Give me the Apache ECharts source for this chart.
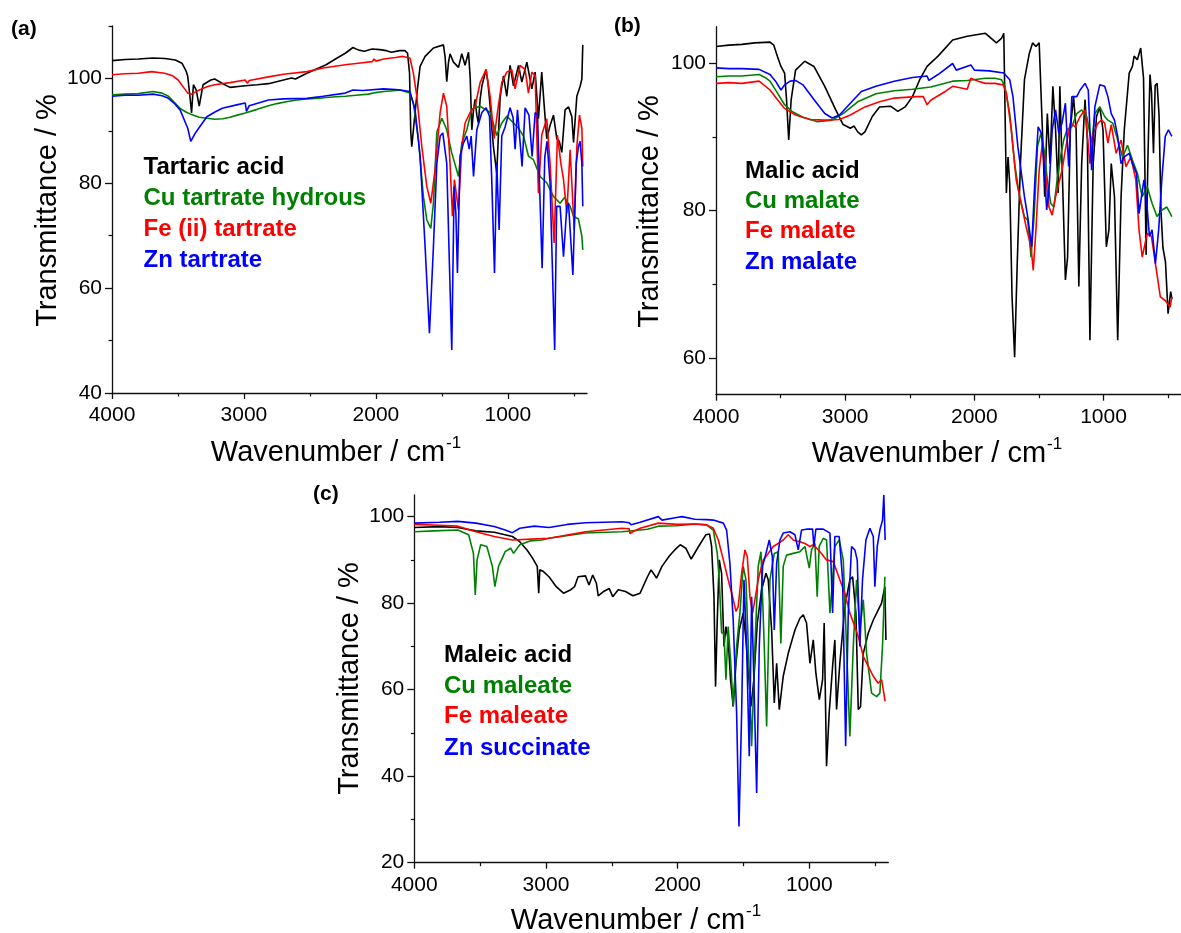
<!DOCTYPE html>
<html>
<head>
<meta charset="utf-8">
<script src="https://cdn.jsdelivr.net/npm/echarts@6/dist/echarts.min.js"></script>
<style>
  html, body { margin: 0; padding: 0; background: #fff; }
  #chart { width: 1181px; height: 933px; }
</style>
</head>
<body>
<div id="chart"></div>
<script>
// ---------- tick labels ----------
const wnTicks = [4000, 3000, 2000, 1000];
const wnMinorTicks = [3500, 2500, 1500, 500];
const yTicksA = [40, 60, 80, 100];
const yMinorA = [50, 70, 90, 110];
const yTicksB = [60, 80, 100];
const yMinorB = [70, 90];
const yTicksC = [20, 40, 60, 80, 100];
const yMinorC = [30, 50, 70, 90];

// ---------- legend names ----------
const namesA = ['Tartaric acid', 'Cu tartrate hydrous', 'Fe (ii) tartrate', 'Zn tartrate'];
const namesB = ['Malic acid', 'Cu malate', 'Fe malate', 'Zn malate'];
const namesC = ['Maleic acid', 'Cu maleate', 'Fe maleate', 'Zn succinate'];

// ---------- panel (a) data: [wavenumber, transmittance] ----------
const tartaricAcid = [[4000,103.4],[3900,103.6],[3800,103.7],[3690,103.9],[3600,103.8],[3520,103.5],[3470,102.9],[3440,101.5],[3426,100.4],[3412,97.2],[3397,93.4],[3383,98.8],[3362,97.8],[3339,94.7],[3310,98.8],[3251,99.7],[3222,99.9],[3160,99.0],[3106,98.3],[2990,98.6],[2900,98.8],[2814,99.0],[2700,99.7],[2640,100.1],[2610,99.9],[2523,101],[2450,101.8],[2377,102.6],[2300,103.8],[2232,104.8],[2174,105.9],[2130,105.4],[2086,105.2],[2030,105.6],[1970,105.5],[1920,105.3],[1882,105.0],[1820,105.3],[1780,105.3],[1760,104.8],[1745,101],[1736,90],[1728,87.0],[1716,87.0],[1703,93.5],[1685,98],[1665,102.3],[1627,104.2],[1564,105.8],[1488,106.4],[1475,104],[1463,99.4],[1450,103],[1438,104.7],[1412,103.1],[1374,102.1],[1349,104.7],[1324,102.5],[1298,105],[1285,100],[1273,90.2],[1260,94],[1248,96],[1235,93],[1223,91.5],[1210,96],[1197,98.5],[1165,101.7],[1150,99],[1134,94.7],[1120,90],[1109,87],[1084,81.9],[1070,90],[1058,96.6],[1033,100.5],[1008,96.6],[983,102.5],[957,98.6],[919,102.5],[894,99.3],[856,103.1],[818,98],[793,101.2],[768,92.3],[743,101.2],[725,95],[705,88.5],[680,91],[654,93],[629,88.5],[610,88],[591,85.9],[566,94],[540,94.6],[515,92.7],[502,87.8],[477,96.6],[452,98.5],[439,99.9],[432,106.4]];
const cuTartrate = [[4000,96.9],[3900,97],[3800,97.1],[3690,97.5],[3620,97.2],[3572,96.6],[3530,95.5],[3484,94.3],[3440,93.6],[3397,93.1],[3339,92.6],[3280,92.4],[3222,92.2],[3160,92.3],[3106,92.6],[3050,93],[2990,93.4],[2900,94.1],[2814,94.8],[2750,95.2],[2669,95.6],[2600,95.9],[2523,96.1],[2400,96.3],[2300,96.5],[2232,96.6],[2150,96.8],[2057,97],[2000,97.3],[1941,97.5],[1850,97.7],[1817,97.8],[1742,97.2],[1716,95.3],[1677,88.2],[1640,77.5],[1614,73],[1584,71.4],[1564,76.2],[1538,89.8],[1500,92.4],[1463,90.2],[1425,85.8],[1374,81.3],[1349,87.7],[1311,90.2],[1273,94.1],[1210,94.7],[1165,94],[1134,93.5],[1084,89.1],[1046,91.5],[1008,92.8],[957,91.5],[919,90.5],[881,89],[844,85.2],[806,84.5],[755,81.3],[705,80.1],[654,77.5],[604,76.2],[570,77.3],[528,75.6],[502,73.7],[465,73.2],[439,69.9],[432,67.3]];
const feTartrate = [[4000,100.7],[3900,100.9],[3800,101],[3700,101.3],[3601,101],[3540,100.5],[3499,99.7],[3455,98.2],[3426,97.2],[3397,97],[3339,97.8],[3280,98.4],[3222,98.8],[3106,99.2],[2990,99.7],[2975,99.1],[2960,99.6],[2814,100.3],[2700,100.8],[2523,101.3],[2400,102],[2232,102.6],[2100,103],[2028,103.2],[2013,103.7],[2000,103.3],[1941,103.7],[1850,104],[1795,104.2],[1742,103.9],[1716,101],[1690,96.6],[1652,87],[1614,79.4],[1584,76.2],[1551,82.6],[1513,93.5],[1488,97.2],[1463,94.7],[1438,83.8],[1420,73.7],[1405,80.7],[1392,80.5],[1374,74.9],[1349,87],[1324,91.5],[1286,93.5],[1248,94.7],[1210,99.2],[1165,101.7],[1134,96.6],[1104,88.5],[1079,93.5],[1046,99.2],[1008,101.2],[970,101.7],[945,98],[907,102.5],[869,101.7],[844,97.2],[818,101.2],[793,100.5],[768,78.1],[743,89.2],[705,92.3],[680,83.8],[649,68.6],[624,89.2],[598,83.8],[578,80.7],[553,74.3],[528,86.4],[497,71.1],[477,87],[457,93],[439,90.5],[432,83.2]];
const znTartrate = [[4000,96.6],[3900,96.8],[3800,96.8],[3690,97],[3620,96.7],[3572,96.2],[3530,95.3],[3484,94],[3426,90.5],[3403,88],[3368,89.6],[3320,91.3],[3281,92.7],[3220,93.6],[3164,94.3],[3047,95],[2990,95.3],[2981,93.7],[2960,94.8],[2814,95.9],[2700,96.1],[2523,96.2],[2400,96.6],[2232,97.2],[2174,97.8],[2100,97.7],[1941,98],[1850,97.9],[1817,97.8],[1742,97.5],[1703,94],[1665,85.2],[1627,67.9],[1594,51.4],[1564,67.9],[1538,83.8],[1513,89],[1493,89.6],[1463,83.8],[1443,64.8],[1425,48.2],[1407,79.4],[1394,74.3],[1382,62.9],[1362,85.2],[1336,87.7],[1311,89],[1293,86.5],[1278,89],[1260,81.3],[1235,90.2],[1197,93.5],[1165,94.4],[1139,92.8],[1122,80.7],[1101,62.9],[1084,83.8],[1066,71.1],[1046,89],[1020,90.8],[983,94.4],[960,92.5],[945,86.5],[927,94],[892,83.2],[869,94.4],[840,93],[816,85.1],[793,93.5],[775,93],[760,80],[740,63.8],[720,85],[703,88],[680,80],[645,48.2],[630,75.6],[604,75.6],[578,66],[553,75.6],[540,76.2],[507,62.5],[482,83.8],[465,87],[452,88],[439,83.8],[432,75.6]];

// ---------- panel (b) data ----------
const malicAcid = [[4000,102.3],[3900,102.5],[3800,102.6],[3700,102.8],[3582,102.9],[3553,102.5],[3525,101],[3497,99.6],[3469,98.7],[3454,95.1],[3437,89.6],[3418,95.1],[3384,99.1],[3313,100.3],[3242,99.6],[3158,96.9],[3073,93.7],[3016,91.7],[2960,91.2],[2931,91.5],[2903,90.7],[2875,90.3],[2847,90.7],[2790,92.8],[2734,94.1],[2649,94.2],[2592,93.5],[2536,94.1],[2479,95.5],[2423,97.8],[2366,99.6],[2281,101],[2168,103.2],[2055,103.7],[1914,104.1],[1829,102.8],[1790,103.4],[1772,104.1],[1764,95.5],[1752,82.4],[1739,87.3],[1726,83.7],[1708,68.3],[1688,60.1],[1668,72.8],[1643,86.4],[1612,97.8],[1574,101.4],[1549,102.8],[1523,102.3],[1498,102.8],[1473,91],[1455,81.9],[1435,93.2],[1414,86.4],[1392,96.9],[1371,91],[1351,82.4],[1338,96.9],[1321,86.4],[1295,70.6],[1278,73.7],[1257,91],[1232,95.5],[1212,91],[1191,69.7],[1169,86.4],[1143,95.1],[1125,89.6],[1105,62.4],[1080,86.4],[1054,92.8],[1029,94.1],[1004,91],[978,75.1],[958,77.4],[940,86.4],[915,81.9],[890,62.4],[864,81.9],[839,91],[801,98.7],[776,99.6],[763,101],[738,100.5],[712,102.1],[690,98],[670,74],[655,88],[640,98.5],[628,96],[613,87.8],[600,97],[585,97.3],[570,93],[555,80],[540,75],[520,73],[500,66],[480,69],[470,68]];
const cuMalate = [[4000,98.2],[3900,98.3],[3800,98.3],[3666,98.5],[3620,98.1],[3582,97.6],[3525,96],[3469,94.4],[3412,93.5],[3327,92.7],[3214,92.1],[3101,92.3],[3016,93.2],[2903,94.8],[2762,95.9],[2620,96.3],[2479,96.5],[2338,96.8],[2168,97.6],[2055,97.7],[1914,98],[1840,98],[1790,97.8],[1764,96.9],[1726,93.2],[1688,86.4],[1650,81.9],[1612,79.2],[1587,78.7],[1561,73.7],[1536,79.6],[1511,88.7],[1485,90.5],[1460,88.3],[1435,84.2],[1409,81],[1384,80.5],[1359,84.2],[1333,87.3],[1308,89.6],[1283,91],[1245,91.4],[1207,93.2],[1169,93.7],[1130,92.8],[1092,89.2],[1067,93.2],[1029,94.1],[991,92.8],[966,92.3],[928,91.9],[890,89.6],[852,87.3],[814,88.9],[776,86.9],[738,85.1],[700,81.9],[662,83.3],[624,81],[586,79.2],[547,80.1],[509,80.5],[471,79.2]];
const feMalate = [[4000,97.3],[3900,97.4],[3800,97.3],[3666,97.6],[3582,96.4],[3525,95.1],[3469,93.9],[3384,93],[3271,92.4],[3158,92.3],[3044,92.4],[2960,93],[2847,94.1],[2734,94.8],[2620,95.3],[2451,95.5],[2395,95.5],[2366,94.4],[2338,95],[2225,96.2],[2168,96.9],[2055,96.5],[2027,98],[1970,97.6],[1914,97.3],[1840,97.3],[1777,97.1],[1752,96],[1714,91],[1676,84.2],[1637,81],[1599,77.8],[1561,75.1],[1544,71.9],[1523,77.4],[1498,85.5],[1473,89.2],[1447,84.6],[1422,80.5],[1397,79.4],[1371,81.9],[1346,83.7],[1321,85.5],[1295,88.3],[1257,91.9],[1219,91.4],[1181,92.8],[1143,93.7],[1105,86.4],[1080,90.5],[1042,91.9],[1016,92.3],[991,91.9],[966,89.2],[940,91.7],[902,87.8],[864,89.6],[826,86],[788,87.3],[750,84.2],[725,77.4],[700,73.7],[662,76.9],[629,76.5],[598,72.8],[560,68.3],[522,67.8],[484,66.9],[471,68.3]];
const znMalate = [[4000,99.4],[3900,99.3],[3800,99.3],[3666,99.2],[3582,98.5],[3539,97.6],[3497,96.4],[3469,97.1],[3426,97.6],[3384,97.7],[3327,97.1],[3242,95.1],[3158,93.2],[3101,92.6],[3044,93],[2960,94.6],[2875,96.2],[2762,96.9],[2620,97.6],[2479,98.1],[2366,98.3],[2352,97.7],[2281,98.5],[2168,100],[2140,99.1],[2027,99.8],[1999,99.1],[1885,99],[1772,98.7],[1726,97.8],[1701,95.5],[1663,88.7],[1612,81.9],[1587,79.2],[1556,75.1],[1531,84.2],[1506,91.4],[1480,90.5],[1460,86.4],[1440,80.1],[1422,82.8],[1397,91],[1371,93.7],[1346,90.5],[1321,91.9],[1295,94.6],[1270,86],[1245,95.5],[1207,95.5],[1181,96.4],[1143,97.3],[1118,96.4],[1092,85.5],[1067,94.1],[1029,97.1],[991,96.9],[966,95.5],[940,93.2],[915,92.3],[890,90.1],[864,86.4],[839,87.3],[801,87.8],[776,86.4],[745,85.1],[725,79.6],[687,84.2],[669,81.9],[644,76.5],[624,77.4],[598,72.8],[573,77.4],[547,84.6],[522,90.1],[497,91],[471,90.1]];

// ---------- panel (c) data ----------
const maleicAcid = [[4000,97.5],[3809,97.7],[3670,97.5],[3532,96.7],[3393,96.4],[3255,95.4],[3199,94.2],[3144,92.3],[3102,90.4],[3066,88.5],[3055,82.3],[3047,87.7],[3019,87.3],[2977,86.1],[2922,83.8],[2867,82.3],[2811,83.1],[2783,83.8],[2756,86.1],[2700,86.3],[2673,84.2],[2645,86.5],[2617,84.6],[2603,81.7],[2562,82.7],[2520,83.4],[2493,81.5],[2451,83.1],[2396,82.7],[2340,81.7],[2285,82.3],[2229,86.1],[2202,87.7],[2160,85.8],[2119,88.5],[2063,90.9],[2022,92.3],[1980,93.5],[1938,92.7],[1897,90.2],[1841,93.1],[1786,95.8],[1758,96],[1742,93.1],[1724,81.5],[1712,60.7],[1699,76.1],[1684,90],[1666,86.9],[1648,70],[1633,74.6],[1616,71.5],[1598,62.3],[1578,56.1],[1557,66.1],[1532,73.8],[1502,77.7],[1481,71.5],[1464,64.6],[1443,56.1],[1421,62.3],[1395,75.4],[1362,83.1],[1329,86.9],[1312,85.4],[1286,73.8],[1266,56.9],[1248,66.1],[1228,55.4],[1198,63.1],[1160,68.4],[1109,73.8],[1071,76.5],[1046,77.3],[1021,75.4],[995,66.1],[970,71.5],[950,63.8],[924,57.7],[899,62.3],[887,75.4],[869,42.3],[849,54.6],[823,65.4],[806,71.5],[793,55.4],[768,66.1],[730,79.2],[692,85.4],[671,86.1],[646,77.7],[628,55.4],[611,56.1],[590,68.4],[552,73.1],[514,76.1],[477,78.4],[451,80],[426,83.8],[418,71.5]];
const cuMaleate = [[4000,96.5],[3850,96.7],[3670,96.9],[3587,95.8],[3551,91.5],[3537,81.9],[3523,90],[3496,93.5],[3449,93.1],[3407,88.5],[3388,83.8],[3360,88.5],[3310,91.9],[3268,92.7],[3246,91.5],[3199,93.5],[3116,94.4],[3033,94.6],[2977,95],[2700,96.2],[2423,96.5],[2229,97.1],[2146,97.8],[2008,97.9],[1869,98.3],[1780,98.1],[1729,96.9],[1699,91.5],[1684,85.4],[1666,73.1],[1648,73.1],[1633,62.3],[1616,74.6],[1598,66.9],[1578,56.1],[1552,70],[1527,77.7],[1502,88.5],[1481,85.4],[1459,66.1],[1438,46.9],[1413,70],[1388,88.5],[1367,91.9],[1342,70],[1324,51.5],[1299,85.4],[1266,91.5],[1236,91.9],[1216,70.7],[1198,88.5],[1173,91.1],[1122,91.5],[1071,91.9],[1033,93.1],[1013,90],[1000,88.1],[983,92.3],[957,93.8],[940,81.5],[925,93.1],[894,95],[869,94.6],[843,77.7],[823,85.4],[806,93.1],[773,94.6],[742,90],[717,70],[692,49.2],[666,70],[641,85.4],[616,73.8],[590,80.8],[565,68.4],[527,59.2],[489,58.4],[464,59.2],[444,70],[426,86.1]];
const feMaleate = [[4000,98.2],[3809,98],[3670,97.8],[3532,96.5],[3393,95.4],[3255,94.6],[3116,94.8],[2977,95],[2700,96.5],[2423,97.3],[2368,97.2],[2362,96.1],[2340,96.5],[2285,97.3],[2146,98.5],[2008,98.2],[1869,98.3],[1780,98.1],[1729,97.3],[1691,94.6],[1653,90],[1616,85.4],[1583,81.5],[1557,78.1],[1540,79.2],[1514,86.9],[1489,92.3],[1471,90.8],[1451,81.5],[1431,77.7],[1413,80.8],[1388,85.4],[1350,90],[1312,91.5],[1274,93.1],[1236,93.8],[1198,94.6],[1160,95.8],[1122,94.6],[1071,94.2],[1033,93.8],[995,93.1],[970,93.5],[919,91.9],[869,90],[818,89.6],[768,85.4],[730,82.3],[692,77.7],[654,74.6],[628,72.3],[590,67.7],[552,65.4],[514,63.1],[477,61.5],[451,62.3],[434,59.2],[424,57.3]];
const znSuccinate = [[4000,98.5],[3809,98.7],[3670,98.9],[3532,98.5],[3393,97.7],[3310,96.9],[3255,96.3],[3199,97.3],[3088,97.8],[2977,97.5],[2839,98.2],[2700,98.6],[2423,98.8],[2368,98.6],[2354,98.1],[2285,98.7],[2146,100],[2119,99.2],[2008,99.8],[1966,100],[1869,99.4],[1780,99.3],[1729,99.2],[1653,98.5],[1628,96.9],[1603,89.2],[1578,76.1],[1552,54.6],[1534,28.4],[1514,54.6],[1496,85.4],[1476,70],[1456,44.6],[1438,81.5],[1421,62.3],[1400,36.1],[1380,70],[1355,88.5],[1329,91.5],[1304,94.6],[1281,90.8],[1266,73.8],[1248,89.2],[1223,94.6],[1198,96.2],[1147,96.5],[1109,95.8],[1084,92.3],[1059,96.9],[1021,97.1],[975,97.1],[965,93.1],[950,97.1],[894,97.1],[843,96.2],[823,77.7],[806,95.4],[773,95.4],[747,85.4],[724,46.9],[704,77.7],[679,93.1],[654,92.3],[636,90],[616,70],[596,85.4],[570,94.6],[540,97.3],[514,95.4],[502,83.8],[484,93.1],[464,96.9],[444,99.2],[434,105],[424,94.6]];

// ---------- styling ----------
const FONT = '"Liberation Sans", Arial, sans-serif';
const COLORS = ['#000000', '#008000', '#ff0000', '#0000ff'];
const AXIS_COLOR = '#111';
const plain = v => String(v);

const grids = [
  { left: 112, top: 26, width: 475, height: 367 },
  { left: 716, top: 26.7, width: 473, height: 368 },
  { left: 414.3, top: 495, width: 474, height: 367.7 }
];
const yRanges = [
  { min: 40, max: 110, major: yTicksA, minor: yMinorA },
  { min: 55, max: 105, major: yTicksB, minor: yMinorB },
  { min: 20, max: 105, major: yTicksC, minor: yMinorC }
];

const xAxes = [], yAxes = [];
grids.forEach((g, i) => {
  xAxes.push({
    gridIndex: i, type: 'value', position: 'bottom', min: 400, max: 4000, inverse: true,
    axisLine: { show: true, onZero: false, lineStyle: { color: AXIS_COLOR, width: 1.3 } },
    axisTick: { show: true, length: 6, customValues: wnTicks, lineStyle: { color: AXIS_COLOR, width: 1.3 } },
    axisLabel: { customValues: wnTicks, formatter: plain, fontSize: 21, color: '#000', margin: 12, fontFamily: FONT },
    splitLine: { show: false }
  });
  yAxes.push({
    gridIndex: i, type: 'value', position: 'left', min: yRanges[i].min, max: yRanges[i].max,
    axisLine: { show: true, onZero: false, lineStyle: { color: AXIS_COLOR, width: 1.3 } },
    axisTick: { show: true, length: 7, customValues: yRanges[i].major, lineStyle: { color: AXIS_COLOR, width: 1.3 } },
    axisLabel: { customValues: yRanges[i].major, formatter: plain, fontSize: 21, color: '#000', margin: 10, fontFamily: FONT },
    splitLine: { show: false }
  });
});
grids.forEach((g, i) => {
  xAxes.push({
    gridIndex: i, type: 'value', position: 'bottom', min: 400, max: 4000, inverse: true,
    axisLine: { show: false, onZero: false },
    axisTick: { show: true, length: 3.5, customValues: wnMinorTicks, lineStyle: { color: AXIS_COLOR, width: 1.2 } },
    axisLabel: { show: false }, splitLine: { show: false }
  });
  yAxes.push({
    gridIndex: i, type: 'value', position: 'left', min: yRanges[i].min, max: yRanges[i].max,
    axisLine: { show: false, onZero: false },
    axisTick: { show: true, length: 3.5, customValues: yRanges[i].minor, lineStyle: { color: AXIS_COLOR, width: 1.2 } },
    axisLabel: { show: false }, splitLine: { show: false }
  });
});

const panels = [
  [tartaricAcid, cuTartrate, feTartrate, znTartrate],
  [malicAcid, cuMalate, feMalate, znMalate],
  [maleicAcid, cuMaleate, feMaleate, znSuccinate]
];
const panelNames = [namesA, namesB, namesC];
const series = [];
panels.forEach((sets, p) => {
  sets.forEach((data, k) => {
    series.push({
      type: 'line', name: panelNames[p][k], xAxisIndex: p, yAxisIndex: p,
      data: data, showSymbol: false, symbol: 'none', smooth: false,
      lineStyle: { color: COLORS[k], width: 1.6 }, itemStyle: { color: COLORS[k] },
      animation: false, silent: true, z: 2 + k
    });
  });
});

// ---------- text graphics ----------
const graphics = [];
function txt(x, y, text, opts) {
  graphics.push({
    type: 'text', x: x, y: y,
    style: Object.assign({ text: text, fontFamily: FONT, fill: '#000', align: 'left', verticalAlign: 'middle' }, opts || {})
  });
}
// panel letters
txt(11, 29, '(a)', { fontSize: 21, fontWeight: 'bold' });
txt(614, 26, '(b)', { fontSize: 21, fontWeight: 'bold' });
txt(313, 494, '(c)', { fontSize: 21, fontWeight: 'bold' });

// y titles (rotated)
[[48, 210.5], [650, 211.5], [350, 678.5]].forEach(([x, y]) => {
  graphics.push({
    type: 'text', x: x, y: y, rotation: Math.PI / 2,
    style: { text: 'Transmittance / %', fontFamily: FONT, fontSize: 29, fill: '#000', align: 'center', verticalAlign: 'middle' }
  });
});
// x titles with superscript
[[336, 451], [937, 452], [636, 919]].forEach(([x, y]) => {
  graphics.push({
    type: 'text', x: x, y: y,
    style: {
      text: '{m|Wavenumber / cm}{s|-1}', align: 'center', verticalAlign: 'middle', fill: '#000',
      rich: {
        m: { fontFamily: FONT, fontSize: 29, lineHeight: 33, verticalAlign: 'bottom', fill: '#000' },
        s: { fontFamily: FONT, fontSize: 17, lineHeight: 17, verticalAlign: 'top', fill: '#000', padding: [0, 0, 0, 1] }
      }
    }
  });
});
// legends
const legendPos = [
  { x: 143.5, ys: [167, 198, 229, 260] },
  { x: 745, ys: [171, 201, 231, 262] },
  { x: 444, ys: [655, 686.5, 716.5, 748] }
];
legendPos.forEach((lp, p) => {
  panelNames[p].forEach((nm, k) => {
    txt(lp.x, lp.ys[k], nm, { fontSize: 24, fontWeight: 'bold', fill: COLORS[k] });
  });
});

const chart = echarts.init(document.getElementById('chart'), null, { renderer: 'canvas', width: 1181, height: 933 });
chart.setOption({
  backgroundColor: '#ffffff',
  animation: false,
  grid: grids,
  xAxis: xAxes,
  yAxis: yAxes,
  series: series,
  graphic: graphics
});
</script>
</body>
</html>
